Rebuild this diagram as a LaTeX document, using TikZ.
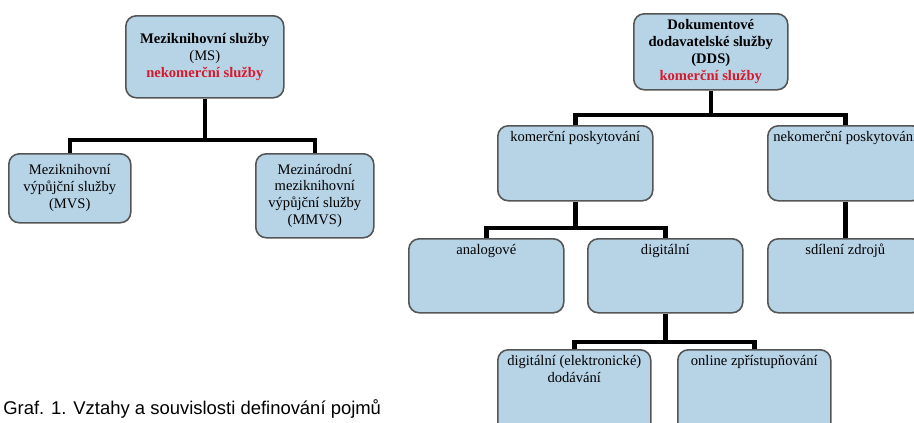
\documentclass[tikz,border=0pt]{standalone}
\usepackage{fontspec}
\setmainfont{Liberation Serif}
\newfontfamily\capfont{Liberation Sans}
\usepackage{xcolor}
\definecolor{boxfill}{RGB}{183,211,230}
\definecolor{boxline}{RGB}{85,85,85}
\definecolor{redtext}{RGB}{215,25,45}
\newlength{\pxu}
\setlength{\pxu}{0.02cm}
% box text: position (t/c), width, height (in px), text
\newcommand{\boxtxt}[4]{\parbox[c][\dimexpr #3\pxu-6pt\relax][#1]{\dimexpr #2\pxu-6pt\relax}{\centering #4}}

\begin{document}
\begin{tikzpicture}[x=0.02cm, y=-0.02cm,
  box/.style={draw=boxline, fill=boxfill, line width=0.9pt, rounded corners=6pt,
    inner xsep=3pt, inner ysep=3pt, anchor=north west,
    font=\fontsize{8.3}{9.6}\selectfont},
  conn/.style={line width=2.6pt, line join=miter}]
  \useasboundingbox (0,0) rectangle (914,423);
  \clip (0,0) rectangle (914,423);

  % Define blocks
  \node [box] (ms) at (125,15) {\boxtxt{c}{158}{82}{\textbf{Meziknihovní služby}\\(MS)\\\textcolor{redtext}{\textbf{nekomerční služby}}}};
  \node [box] (mvs) at (8,153) {\boxtxt{c}{122}{69}{Meziknihovní výpůjční služby (MVS)}};
  \node [box] (mmvs) at (255,153) {\boxtxt{c}{118}{84}{Mezinárodní meziknihovní výpůjční služby (MMVS)}};

  \node [box] (dds) at (633,13) {\boxtxt{c}{154}{76}{\textbf{Dokumentové\\dodavatelské služby\\(DDS)}\\\textcolor{redtext}{\textbf{komerční služby}}}};
  \node [box] (kp) at (497,125) {\boxtxt{t}{155}{75}{komerční poskytování}};
  \node [box] (np) at (767,125) {\boxtxt{t}{155}{75}{\makebox[\linewidth]{nekomerční poskytování}}};
  \node [box] (an) at (408,238) {\boxtxt{t}{155}{74}{analogové}};
  \node [box] (dg) at (587,238) {\boxtxt{t}{155}{74}{digitální}};
  \node [box] (sz) at (767,238) {\boxtxt{t}{155}{74}{sdílení zdrojů}};
  \node [box] (dd) at (497,349) {\boxtxt{t}{153}{85}{digitální (elektronické)\\dodávání}};
  \node [box] (oz) at (677,349) {\boxtxt{t}{153}{85}{online zpřístupňování}};

  \node [anchor=west, inner sep=0pt, font=\capfont\fontsize{10.5}{12}\selectfont] (cap) at (3,409) {Graf. 1. Vztahy a souvislosti definování pojmů};

  % Connect blocks
  \coordinate (msj) at (ms.south |- 0,140);
  \coordinate (ddsj) at (dds.south |- 0,115);
  \coordinate (kpj) at (kp.south |- 0,228);
  \coordinate (dgj) at (dg.south |- 0,342);
  \draw [conn] (ms.south) -- (msj);
  \draw [conn] (mvs.north) |- (msj) -| (mmvs.north);
  \draw [conn] (dds.south) -- (ddsj);
  \draw [conn] (kp.north) |- (ddsj) -| (np.north);
  \draw [conn] (kp.south) -- (kpj);
  \draw [conn] (an.north) |- (kpj) -| (dg.north);
  \draw [conn] (np.south) -- (sz.north);
  \draw [conn] (dg.south) -- (dgj);
  \draw [conn] (dd.north) |- (dgj) -| (oz.north);
\end{tikzpicture}
\end{document}
